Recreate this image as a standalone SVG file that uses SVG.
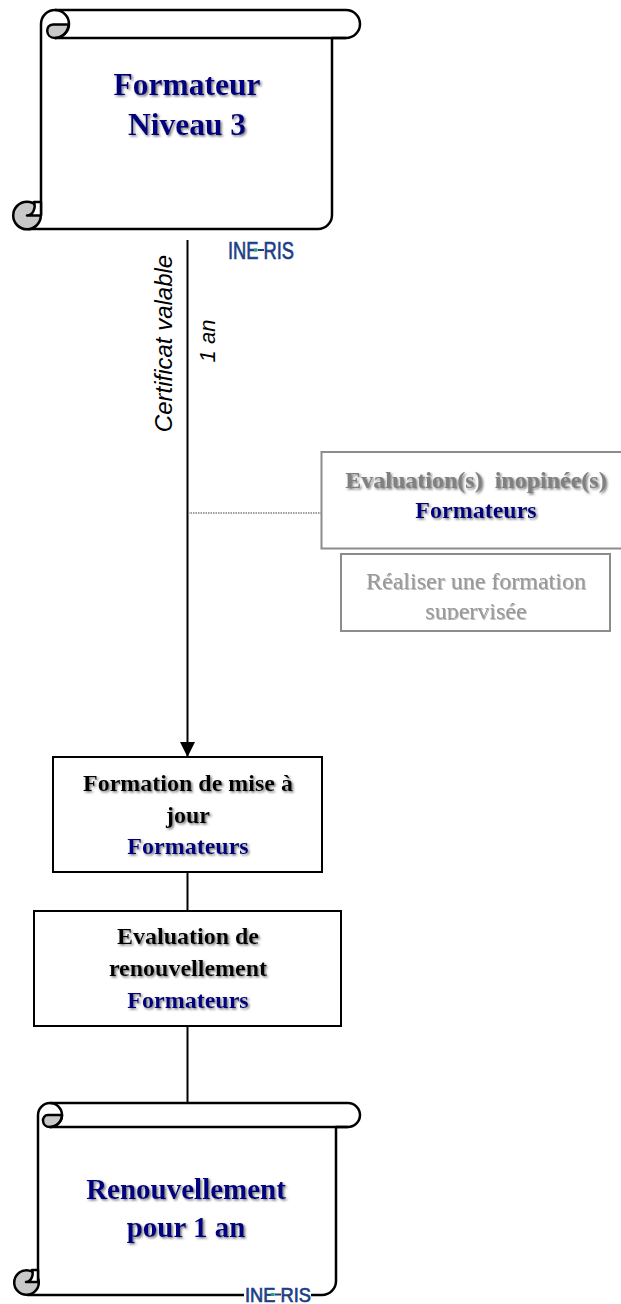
<svg xmlns="http://www.w3.org/2000/svg" width="621" height="1304" viewBox="0 0 621 1304">
<style>
.ln{fill:none;stroke:#000;stroke-width:2}
.sl{fill:none;stroke:#000;stroke-width:2.500;stroke-linejoin:round}
.scroll{fill:#fff;stroke:#000;stroke-width:2.500;stroke-linejoin:round}
.curl{fill:#c8c8c8;stroke:#000;stroke-width:2.500;stroke-linejoin:round}
.notch{fill:#fff;stroke:#000;stroke-width:2.500;stroke-linejoin:round}
.box{fill:#fff;stroke:#000;stroke-width:2}
.gbox{fill:#fff;stroke:#8c8c8c;stroke-width:2}
text{font-family:"Liberation Serif","Times New Roman",serif;text-anchor:middle}
.t{font-weight:700;font-size:24px;filter:url(#sh);fill:#000}
.n{fill:#000080}
.g{fill:#808080}
.big{font-weight:700;font-size:29px;fill:#000080;filter:url(#sh)}
.big2{font-size:31.500px}
.r{font-size:24px;fill:#999;filter:url(#shl)}
.it{font-family:"Liberation Sans",Arial,sans-serif;font-style:italic;font-size:24px;fill:#000}
.it2{font-size:22px}
.logo{font-family:"Liberation Sans",Arial,sans-serif;font-size:24px;fill:#1c3f87;stroke:#1c3f87;stroke-width:.7}
.logo2{font-size:20px}
</style>
<defs>
<filter id="sh" x="-10%" y="-20%" width="120%" height="140%"><feDropShadow dx="1.5" dy="1.5" stdDeviation="0.8" flood-color="#777"/></filter>
<filter id="shl" x="-10%" y="-20%" width="120%" height="140%"><feDropShadow dx="1" dy="1" stdDeviation="0.7" flood-color="#bbb"/></filter>
<marker id="arr" markerUnits="userSpaceOnUse" markerWidth="16" markerHeight="15" refX="15" refY="7.500" orient="auto"><path d="M0,0L15,7.500L0,15Z" fill="#000"/></marker>
<clipPath id="cl"><rect x="342" y="555" width="267" height="65"/></clipPath>
</defs>
<g id="connectors">
<path class="ln" d="M187.500,240V757" marker-end="url(#arr)"/>
<path class="ln" d="M187.500,872V911"/>
<path class="ln" d="M187.500,1026V1103"/>
<path d="M188,513H321" fill="none" stroke="#808080" stroke-width="1.5" stroke-dasharray="1.5 1"/>
</g>
<g id="scroll-top">
<path class="scroll" d="M41,215V24A14,14 0 0 1 55,10H346A14,14 0 0 1 346,38H332V215A14,14 0 0 1 318,229H27"/>
<path class="sl" d="M55,38H346"/>
<path class="curl" d="M55,38C45,38 45,24.500 53,24.500H68.500A14,14 0 0 1 55,38Z"/>
<path class="sl" d="M55,10A14,14 0 0 1 55,38"/>
<circle class="curl" cx="27" cy="215.500" r="13.800"/>
<path class="notch" d="M41,202H34C36,208 33,215.500 27,215.500H41Z"/>
<text class="big big2" x="187" y="95">Formateur</text>
<text class="big big2" x="187" y="135">Niveau 3</text>
</g>
<g id="logo-top">
<text class="logo" x="261" y="259" textLength="66" lengthAdjust="spacingAndGlyphs">INE RIS</text>
<rect x="258" y="249" width="6" height="2" fill="#1c3f87"/>
<rect x="254" y="248.500" width="3.500" height="3" fill="#2aa27c"/>
</g>
<g id="labels">
<text class="it" transform="translate(172,343.500) rotate(-90)">Certificat valable</text>
<text class="it it2" transform="translate(215,341) rotate(-90)">1 an</text>
</g>
<g id="eval-inopinee">
<rect class="gbox" x="321.500" y="452" width="302" height="96.500"/>
<text class="t g" x="476" y="488" xml:space="preserve">Evaluation(s)  inopinée(s)</text>
<text class="t n" x="476" y="518">Formateurs</text>
</g>
<g id="formation-supervisee">
<rect class="gbox" x="341" y="554" width="269" height="77"/>
<text class="r" x="476" y="589">Réaliser une formation</text>
<g clip-path="url(#cl)"><text class="r" x="476" y="619">supervisée</text></g>
</g>
<g id="formation-maj">
<rect class="box" x="53" y="757" width="269" height="115"/>
<text class="t" x="188" y="791">Formation de mise à</text>
<text class="t" x="188" y="823">jour</text>
<text class="t n" x="188" y="854">Formateurs</text>
</g>
<g id="eval-renouv">
<rect class="box" x="34" y="911" width="307" height="115"/>
<text class="t" x="188" y="944">Evaluation de</text>
<text class="t" x="188" y="976">renouvellement</text>
<text class="t n" x="188" y="1008">Formateurs</text>
</g>
<g id="scroll-bottom">
<path class="scroll" d="M38,1282V1115A12,12 0 0 1 50,1103H348A12,12 0 0 1 348,1127H336V1281A14,14 0 0 1 322,1295H27"/>
<path class="sl" d="M50,1127H348"/>
<path class="curl" d="M50,1127C41,1127 41,1115 48,1115H62A12,12 0 0 1 50,1127Z"/>
<path class="sl" d="M50,1103A12,12 0 0 1 50,1127"/>
<circle class="curl" cx="26.500" cy="1282.500" r="12.300"/>
<path class="notch" d="M38,1270H32C34,1275 31,1282 26,1282H38Z"/>
<text class="big" x="186" y="1199">Renouvellement</text>
<text class="big" x="186" y="1237">pour 1 an</text>
</g>
<g id="logo-bottom">
<rect x="244" y="1285" width="67" height="19" fill="#fff"/>
<text class="logo logo2" x="278" y="1302" textLength="66" lengthAdjust="spacingAndGlyphs">INE RIS</text>
<rect x="275" y="1293.500" width="6" height="2" fill="#1c3f87"/>
<rect x="271" y="1293" width="3.500" height="3" fill="#2aa27c"/>
</g>
</svg>
